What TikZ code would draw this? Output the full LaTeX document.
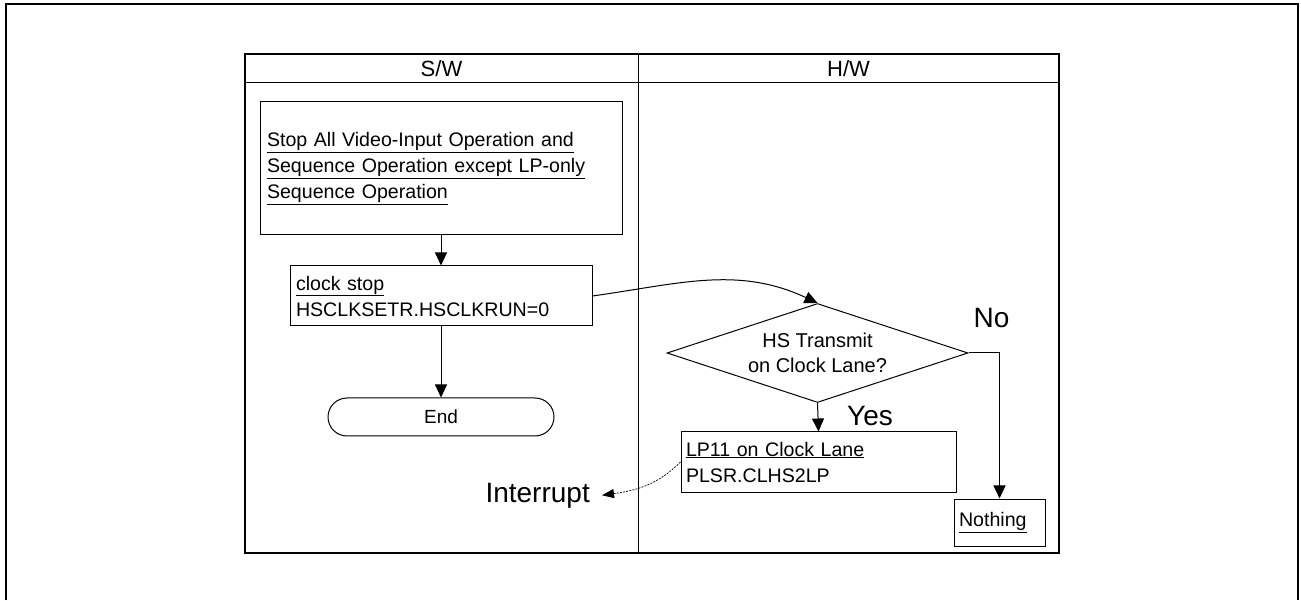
\documentclass[tikz,border=0pt]{standalone}
\usepackage{fontspec}
\setmainfont{Liberation Sans}
\usepackage{tikz}
\usetikzlibrary{shapes.geometric,arrows.meta,positioning,calc}
\tikzset{
  box/.style={rectangle,draw=black,line width=1pt,fill=white,align=left,
              font=\fontsize{19.6}{26}\selectfont,inner sep=6pt},
  term/.style={rectangle,rounded corners=19pt,draw=black,line width=1pt,align=center,
               font=\fontsize{19}{22}\selectfont,minimum width=226pt,minimum height=38pt},
  decide/.style={diamond,aspect=3,draw=black,line width=1pt,align=center,inner sep=0pt,
                 font=\fontsize{20}{25}\selectfont,minimum width=301pt,minimum height=99pt},
  lbl/.style={font=\fontsize{28}{30}\selectfont,inner sep=0pt,anchor=base},
  hd/.style={font=\fontsize{22}{24}\selectfont},
  fl/.style={-{Triangle[length=13pt,width=12pt]},line width=1pt},
  irq/.style={-{Triangle[length=12pt,width=9pt]},line width=0.7pt,dash pattern=on 2pt off 1.2pt},
}
\begin{document}
\begin{tikzpicture}[x=1pt,y=1pt]
  \useasboundingbox (0,0) rectangle (1301,600);
  % ── page frame (open at the bottom) ──
  \draw[line width=2pt] (6,0) -- (6,596) -- (1298,596) -- (1298,0);
  % ── swim lanes ──
  \draw[line width=1.1pt] (245,47) rectangle (1059,546);
  \draw[line width=1pt] (245,517) -- (1059,517);
  \draw[line width=1pt] (638,47) -- (638,546);
  \node[hd] (swhead) at (441.5,531.5) {S/W};
  \node[hd] (hwhead) at (848.5,531.5) {H/W};
  % ── S/W lane ──
  \node[box,minimum width=362pt,minimum height=133pt,text width=348pt,inner sep=7pt] (stopall) at (441,431.5)
    {\underline{Stop All Video-Input Operation and}\\
     \underline{Sequence Operation except LP-only}\\
     \underline{Sequence Operation}};
  \node[box,minimum width=302pt,minimum height=60pt,text width=290pt] (clkstop) at (441,304)
    {\underline{clock stop}\\HSCLKSETR.HSCLKRUN=0};
  \node[term] (endterm) at (441,183) {End};
  \node[lbl,anchor=base east,inner xsep=12pt] (intr) at (602,98) {Interrupt};
  % ── H/W lane ──
  \node[decide] (hsq) at (817.5,247) {HS Transmit\\on Clock Lane?};
  \node[box,minimum width=275pt,minimum height=60pt,text width=265pt,inner sep=5pt] (lp11) at (818.5,138)
    {\underline{LP11 on Clock Lane}\\PLSR.CLHS2LP};
  \node[box,minimum width=91pt,minimum height=47pt,text width=81pt,inner sep=5pt] (nothing) at (999.5,77.5)
    {\underline{Nothing}};
  \node[lbl] (nolbl)  at (991.5,272) {No};
  \node[lbl] (yeslbl) at (870,174) {Yes};
  % ── edges ──
  \draw[fl] (stopall.south) -- (clkstop.north);
  \draw[fl] (clkstop.south) -- (endterm.north);
  \draw[fl] (clkstop.east) to[out=8,in=155] (hsq.north);
  \draw[fl] (hsq.south) -- (lp11.north);
  \draw[fl] (hsq.east) -| (nothing.north);
  \draw[irq] (lp11.west) to[out=225,in=8] (intr.east);
\end{tikzpicture}
\end{document}
